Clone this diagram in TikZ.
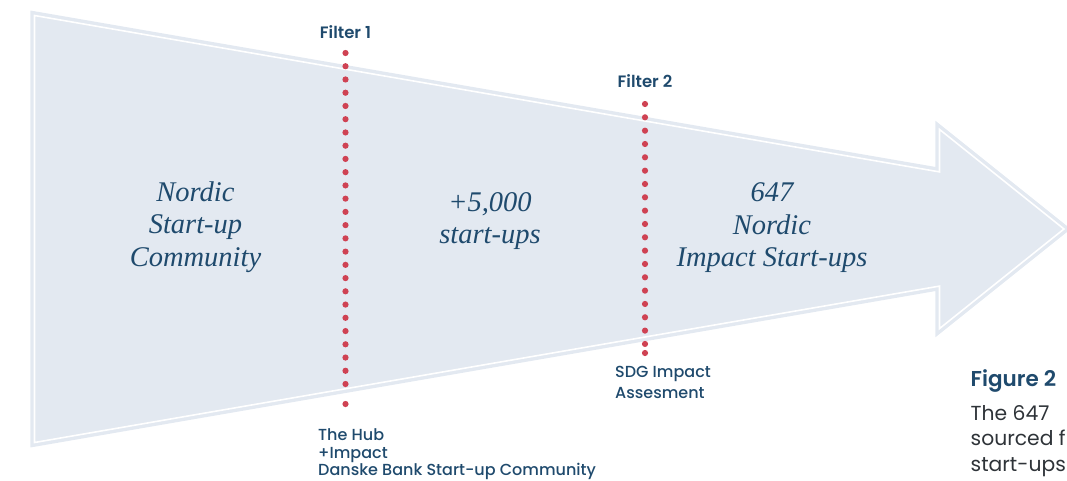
\documentclass[tikz,border=0pt]{standalone}
\usepackage{fontspec}
\setmainfont{Liberation Serif}
\newfontfamily\labelfont{Poppins}
\IfFontExistsTF{Poppins Medium}
  {\newfontfamily\medfont{Poppins Medium}}
  {\newfontfamily\medfont{Poppins}[FakeBold=0.6]}
\IfFontExistsTF{Poppins SemiBold}
  {\newfontfamily\semifont{Poppins SemiBold}}
  {\newfontfamily\semifont{Poppins}[FakeBold=1]}

\definecolor{arrowfill}{HTML}{E3E9F1}
\definecolor{inkblue}{HTML}{1F4A6D}
\definecolor{dotred}{HTML}{CF4253}
\definecolor{bodygray}{HTML}{2E3338}

\tikzset{
  stagetext/.style={font=\fontsize{28.5}{32.5}\selectfont\itshape, text=inkblue, align=center, inner sep=0pt},
  filterlabel/.style={font=\semifont\fontsize{16.5}{18}\selectfont, text=inkblue, inner sep=0pt, anchor=base},
  sourcelabel/.style={font=\medfont\fontsize{16}{17.5}\selectfont, text=inkblue, align=left, inner sep=0pt, anchor=base west},
  filterdot/.style={fill=dotred},
}

\begin{document}
\begin{tikzpicture}[x=1pt,y=-1pt]
\useasboundingbox (0,0) rectangle (1067,480);
\clip (0,0) rectangle (1067,480);

% funnel arrow: light fill with a thin white inset outline
\path[fill=arrowfill, draw=arrowfill, double=white, double distance=1.6pt,
      line width=3.4pt, line join=miter]
  (34.5,15.5) -- (939.5,171.9) -- (939.5,129.4) -- (1064,229)
  -- (939.5,328.6) -- (939.5,286.1) -- (34.5,442.5) -- cycle;

% filter lines drawn as red dots
\foreach \k in {0,...,25}
  \fill[filterdot] (345.5,{53+13.24*\k}) circle (3.1);
\fill[filterdot] (345.5,404) circle (3.1);
\foreach \k in {0,...,18}
  \fill[filterdot] (645,{104+13.33*\k}) circle (3.1);
\fill[filterdot] (645,353) circle (3.1);

% filter titles
\node[filterlabel] (f1) at (345.5,38.3) {Filter 1};
\node[filterlabel] (f2) at (645,87.7) {Filter 2};

% stage texts inside the arrow
\node[stagetext] (community) at (195.5,227) {Nordic\\Start-up\\Community};
\node[stagetext] (startups) at (490,221) {+5,000\\start-ups};
\node[stagetext] (impact) at (772,228) {647\\Nordic\\Impact Start-ups};

% sources of each filter (anchored on the last baseline)
\node[sourcelabel] (hub) at (318,475.5) {The Hub\\+Impact\\Danske Bank Start-up Community};
\node[sourcelabel, font=\medfont\fontsize{16}{21}\selectfont] (sdg) at (615,398.3) {SDG Impact\\Assesment};

% caption
\node[anchor=base west, inner sep=0pt, text=inkblue, font=\semifont\fontsize{21.5}{24}\selectfont] (figtitle) at (970.5,386.7) {Figure 2};
\node[anchor=base west, inner sep=0pt, text=bodygray, align=left, font=\labelfont\fontsize{20.3}{25.5}\selectfont] (figtext) at (970.5,471) {The 647\\sourced f\\start-ups};
\end{tikzpicture}
\end{document}
